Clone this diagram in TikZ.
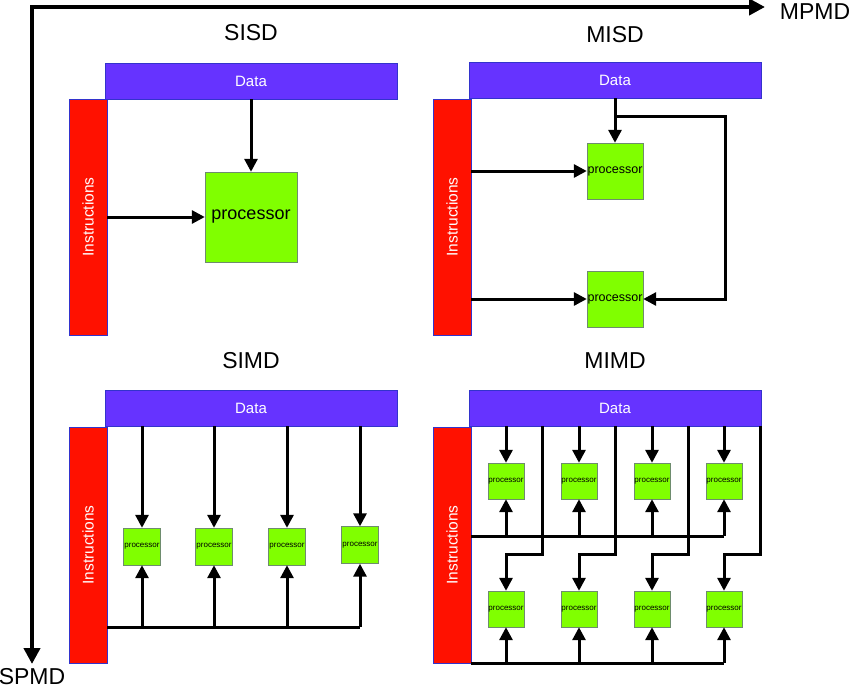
\documentclass[tikz,border=0pt]{standalone}
\usepackage{fontspec}
\setmainfont{Liberation Sans}
\usetikzlibrary{arrows.meta}

\definecolor{datablue}{RGB}{102,51,255}
\definecolor{edgeblue}{RGB}{51,51,204}
\definecolor{instrred}{RGB}{255,17,0}
\definecolor{procgreen}{RGB}{128,255,0}
\definecolor{procedge}{RGB}{110,140,110}

\tikzset{
  databar/.style={draw=edgeblue, fill=datablue, text=white, minimum width=292pt,
    minimum height=36pt, inner sep=0pt, font=\fontsize{15}{15}\selectfont},
  instrbar/.style={draw=edgeblue, fill=instrred, text=white, minimum width=38pt,
    minimum height=236pt, inner sep=0pt, font=\fontsize{15.5}{15.5}\selectfont},
  procbox/.style={draw=procedge, fill=procgreen, inner sep=0pt},
  title/.style={font=\fontsize{23}{23}\selectfont},
  flow/.style={line width=3pt, -{Triangle[length=13pt,width=13pt]}},
  bus/.style={line width=3pt},
  axis/.style={line width=4pt, {Triangle[length=16pt,width=16pt]}-{Triangle[length=16pt,width=16pt]}}
}

\begin{document}
\begin{tikzpicture}[x=1pt,y=-1pt]
  \useasboundingbox (0,0) rectangle (850,689);

  % axes
  \node[title, inner sep=0pt] (mpmd) at (815,12) {MPMD};
  \node[title, inner sep=0pt] (spmd) at (32,677) {SPMD};
  \coordinate (mpmdend) at (765,7);
  \coordinate (spmdend) at (32,664);
  \coordinate (corner) at (32,7);
  \draw[axis] (mpmdend) -- (corner) -- (spmdend);

  % SISD
  \node[title] (sisd) at (251,33) {SISD};
  \node[databar] (sdata) at (251,81) {Data};
  \node[instrbar] (sinstr) at (88,217) {\rotatebox{90}{Instructions}};
  \node[procbox, minimum width=92pt, minimum height=90pt, font=\fontsize{18}{18}\selectfont] (sproc) at (251,217) {processor};
  \draw[flow] (sdata.south) -- (sproc.north);
  \draw[flow] (sproc.west -| sinstr.east) -- (sproc.west);

  % MISD
  \node[title] (misd) at (615,35) {MISD};
  \node[databar] (mdata) at (615,80) {Data};
  \node[instrbar] (minstr) at (452,217) {\rotatebox{90}{Instructions}};
  \node[procbox, minimum size=56pt, font=\fontsize{12.5}{12.5}\selectfont] (mproc1) at (615,171) {processor};
  \node[procbox, minimum size=56pt, font=\fontsize{12.5}{12.5}\selectfont] (mproc2) at (615,299) {processor};
  \draw[flow] (mdata.south) -- (mproc1.north);
  \coordinate (mbranch) at (615,116);
  \coordinate (mloop) at (725,116);
  \draw[flow] (mbranch) -- (mloop) |- (mproc2.east);
  \draw[flow] (mproc1.west -| minstr.east) -- (mproc1.west);
  \draw[flow] (mproc2.west -| minstr.east) -- (mproc2.west);

  % SIMD
  \node[title] (simd) at (251,361) {SIMD};
  \node[databar] (sidata) at (251,408) {Data};
  \node[instrbar] (siinstr) at (88,545) {\rotatebox{90}{Instructions}};
  \coordinate (sibus) at (107,627);
  \foreach \i/\x/\y in {1/142/546.5,2/214/546.5,3/287/546.5,4/360/545}{
    \node[procbox, minimum size=37pt, font=\fontsize{8}{8}\selectfont] (sp\i) at (\x,\y) {processor};
    \draw[flow] (sp\i.north |- sidata.south) -- (sp\i.north);
    \draw[flow] (sp\i.south |- sibus) -- (sp\i.south);
  }
  \draw[bus] (sibus) -- (sp4.south |- sibus);

  % MIMD
  \node[title] (mimd) at (615,361) {MIMD};
  \node[databar] (mmdata) at (615,408) {Data};
  \node[instrbar] (mminstr) at (452,545) {\rotatebox{90}{Instructions}};
  \coordinate (mtbus) at (471,536);
  \coordinate (mbbus) at (471,663);
  \foreach \i/\x in {1/506,2/579,3/652,4/724}{
    \node[procbox, minimum size=36pt, font=\fontsize{8}{8}\selectfont] (mt\i) at (\x,481) {processor};
    \node[procbox, minimum size=36pt, font=\fontsize{8}{8}\selectfont] (mb\i) at (\x,609) {processor};
    \draw[flow] (mt\i.north |- mmdata.south) -- (mt\i.north);
    \draw[flow] (mt\i.south |- mtbus) -- (mt\i.south);
    \draw[flow] ([xshift=36.5pt]mt\i.north |- mmdata.south) -- ++(0,128) -| (mb\i.north);
    \draw[flow] (mb\i.south |- mbbus) -- (mb\i.south);
  }
  \draw[bus] (mtbus) -- (mt4.south |- mtbus);
  \draw[bus] (mbbus) -- (mb4.south |- mbbus);
\end{tikzpicture}
\end{document}
